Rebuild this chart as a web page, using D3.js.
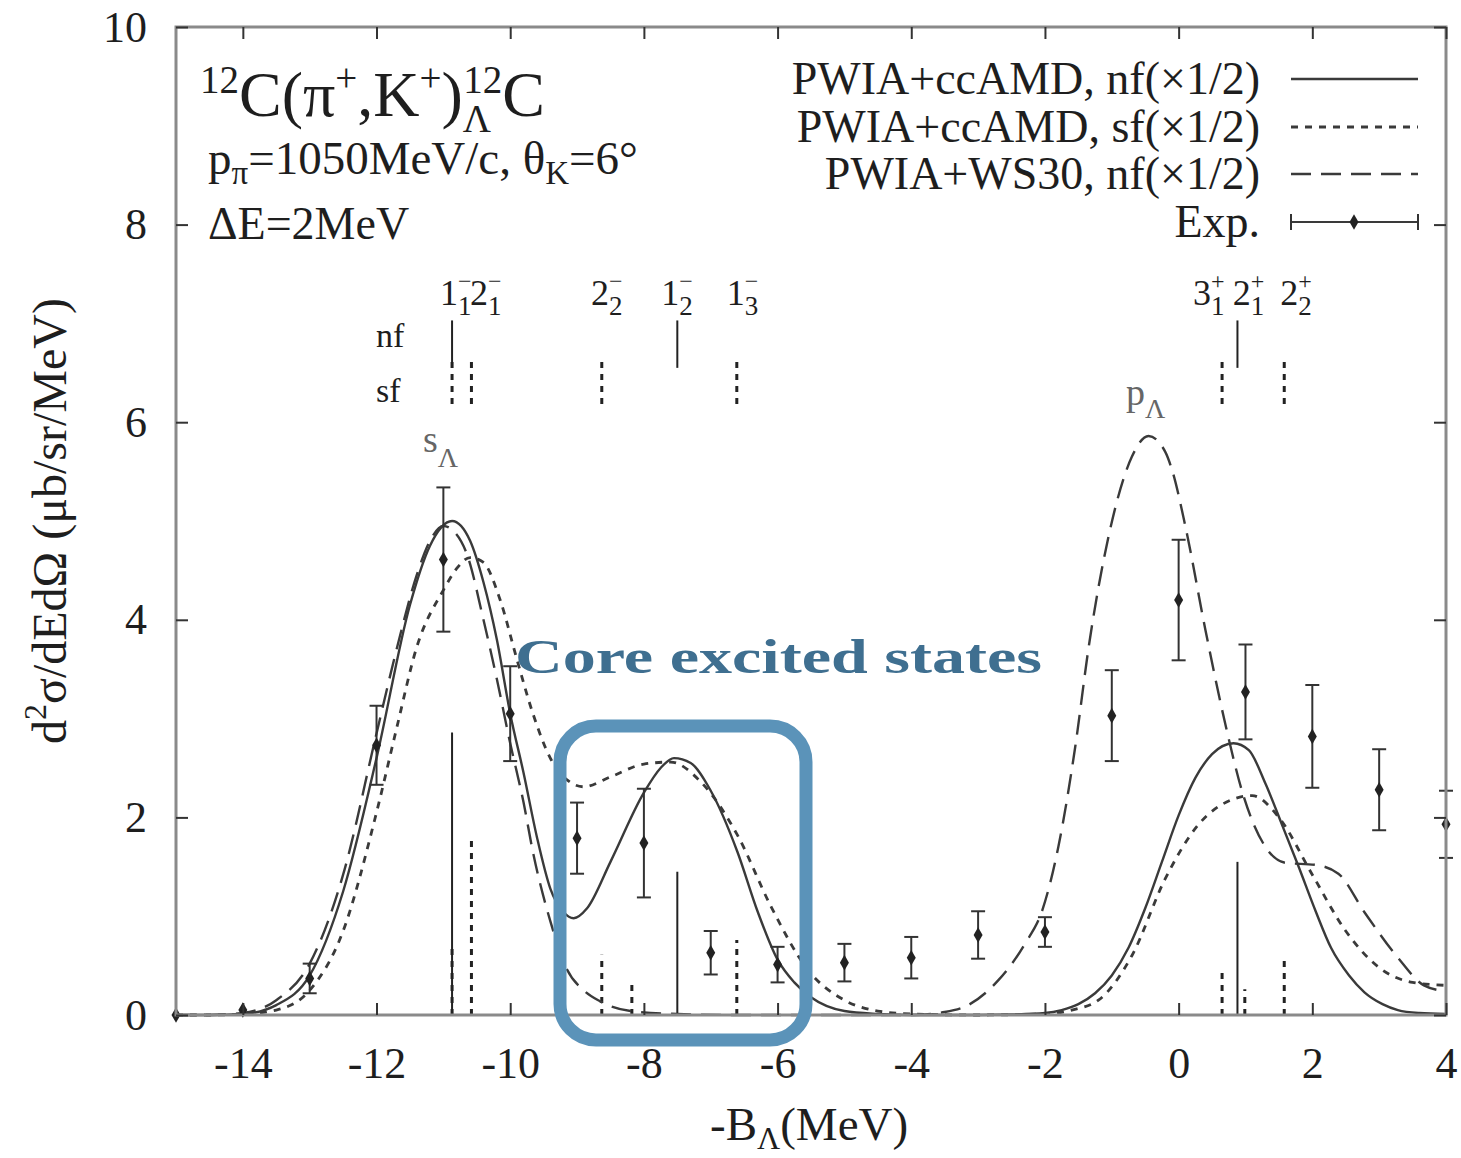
<!DOCTYPE html>
<html>
<head>
  <meta charset="UTF-8">
  <title>12C(pi+,K+) Lambda-12C spectrum</title>
  <script src="https://cdn.jsdelivr.net/npm/d3@7"></script>
  <style>
    body { margin: 0; background: #fff; }
    text { font-family: "Liberation Serif", "Times New Roman", serif; fill: #1e1e1e; }
    .tick text { font-family: "Liberation Serif", serif; font-size: 44px; fill: #1e1e1e; }
  </style>
</head>
<body>
<svg id="chart"></svg>
<script>
// ---- data ----
// experimental points
var expE   = [-15, -14, -13, -12, -11, -10, -9, -8, -7, -6, -5, -4, -3, -2, -1, 0, 1, 2, 3, 4];
var expVal = [0, 0.05, 0.37, 2.73, 4.61, 3.05, 1.79, 1.74, 0.63, 0.51, 0.53, 0.58, 0.81, 0.84, 3.03, 4.20, 3.27, 2.82, 2.28, 1.93];
var expErr = [0, 0.03, 0.15, 0.40, 0.73, 0.48, 0.36, 0.55, 0.22, 0.18, 0.19, 0.21, 0.24, 0.15, 0.46, 0.61, 0.48, 0.52, 0.41, 0.34];

// PWIA+ccAMD nf (x1/2), solid
var nfCurve = [[-15,0],[-14.5,0],[-14,0.01],[-13.5,0.1],[-13,0.4],[-12.5,1.25],[-12,2.6],[-11.5,4.15],[-11.2,4.75],
  [-10.87,5.0],[-10.6,4.8],[-10.4,4.38],[-10.2,3.8],[-10,3.05],[-9.8,2.45],[-9.6,1.8],[-9.4,1.28],[-9.2,1.04],
  [-9.05,0.98],[-8.85,1.08],[-8.5,1.55],[-8,2.25],[-7.75,2.5],[-7.55,2.6],[-7.3,2.55],[-7.0,2.27],[-6.6,1.65],
  [-6.3,1.05],[-6,0.56],[-5.75,0.33],[-5.5,0.18],[-5,0.04],[-4.5,0.01],[-4,0],[-3,0],[-2.5,0.005],[-2,0.02],
  [-1.75,0.05],[-1.5,0.11],[-1.25,0.22],[-1.0,0.4],[-0.75,0.68],[-0.5,1.08],[-0.25,1.55],[0,2.02],[0.25,2.4],
  [0.5,2.64],[0.82,2.75],[1.05,2.68],[1.3,2.34],[1.55,1.92],[1.79,1.51],[2.05,1.05],[2.28,0.68],[2.55,0.4],
  [2.78,0.23],[3.05,0.11],[3.28,0.05],[3.6,0.02],[4,0.01]];

// PWIA+ccAMD sf (x1/2), dotted
var sfCurve = [[-15,0],[-14.5,0],[-14,0.01],[-13.5,0.05],[-13,0.25],[-12.5,0.85],[-12,2.05],[-11.7,2.9],[-11.4,3.72],
  [-11.0,4.3],[-10.8,4.52],[-10.6,4.63],[-10.4,4.58],[-10.15,4.2],[-9.9,3.6],[-9.66,3.05],[-9.4,2.6],[-9.15,2.38],
  [-8.9,2.31],[-8.5,2.41],[-8,2.54],[-7.6,2.56],[-7.15,2.36],[-6.6,1.82],[-6.1,1.1],[-5.55,0.46],[-5,0.15],
  [-4.5,0.04],[-4,0.01],[-3,0],[-2,0.01],[-1.6,0.05],[-1.2,0.15],[-0.7,0.6],[-0.2,1.38],[0.3,1.93],[0.8,2.18],
  [1.1,2.22],[1.5,2.0],[2.0,1.42],[2.5,0.85],[3.0,0.48],[3.5,0.33],[4.0,0.3]];

// PWIA+WS30 nf (x1/2), dashed
var wsCurve = [[-15,0],[-14.5,0],[-14,0.02],[-13.5,0.15],[-13,0.52],[-12.5,1.42],[-12,2.85],[-11.7,3.7],[-11.4,4.45],
  [-11.2,4.8],[-11,4.95],[-10.85,4.9],[-10.64,4.65],[-10.4,4.0],[-10.2,3.4],[-10,2.75],[-9.8,2.15],[-9.66,1.65],
  [-9.4,0.95],[-9.15,0.46],[-8.9,0.25],[-8.66,0.14],[-8.2,0.04],[-7.5,0.01],[-6.5,0],[-4,0],[-3.5,0.03],
  [-3.15,0.1],[-2.7,0.35],[-2.3,0.72],[-2.04,1.06],[-1.8,1.7],[-1.55,2.7],[-1.34,3.75],[-1.04,4.87],[-0.7,5.65],
  [-0.45,5.86],[-0.2,5.7],[-0.1,5.52],[0.1,4.95],[0.4,3.9],[0.7,2.94],[0.96,2.24],[1.3,1.7],[1.6,1.54],
  [2.04,1.52],[2.39,1.43],[2.78,1.04],[3.28,0.58],[3.67,0.3],[4.0,0.24]];

// spectroscopic strengths (bars at the bottom)
var nfLevels   = [-10.87, -7.50, 0.88];
var nfStrength = [2.86, 1.45, 1.55];
var sfLevels   = [-10.87, -10.58, -8.63, -8.18, -6.61, 0.65, 0.99, 1.58];
var sfStrength = [0.73, 1.82, 0.61, 0.35, 0.76, 0.46, 0.26, 0.58];
// level marks drawn near the top
var sfMarked   = [-10.87, -10.58, -8.63, -6.61, 0.65, 1.58];

// state labels J^pi_n
var stateMain   = ["1", "2", "2", "1", "1", "3", "2", "2"];
var stateSup    = ["\u2212", "\u2212", "\u2212", "\u2212", "\u2212", "+", "+", "+"];
var stateSub    = ["1", "1", "2", "2", "3", "1", "1", "2"];
var stateLabelE = [-11.05, -10.6, -8.79, -7.74, -6.76, 0.215, 0.81, 1.52];

var xTicks = [-14, -12, -10, -8, -6, -4, -2, 0, 2, 4];
var yTicks = [0, 2, 4, 6, 8, 10];

// ---- layout ----
var width = 1461, height = 1158;
var plotLeft = 176, plotRight = 1446, plotTop = 27, plotBottom = 1015;
var curveColor = "#3a3a3a";

var x = d3.scaleLinear().domain([-15, 4]).range([plotLeft, plotRight]);
var y = d3.scaleLinear().domain([0, 10]).range([plotBottom, plotTop]);

var svg = d3.select("#chart").attr("width", width).attr("height", height);

// spectroscopic bars
var bars = svg.append("g").attr("id", "bars");
bars.selectAll(".nfbar").data(nfLevels).enter().append("line")
  .attr("x1", function(d) { return x(d); }).attr("x2", function(d) { return x(d); })
  .attr("y1", y(0)).attr("y2", function(d, i) { return y(nfStrength[i]); })
  .attr("stroke", "#222").attr("stroke-width", 2);
bars.selectAll(".sfbar").data(sfLevels).enter().append("line")
  .attr("x1", function(d) { return x(d); }).attr("x2", function(d) { return x(d); })
  .attr("y1", y(0)).attr("y2", function(d, i) { return y(sfStrength[i]); })
  .attr("stroke", "#222").attr("stroke-width", 3).attr("stroke-dasharray", "6,6");

// level marks near the top (nf solid, sf dotted)
bars.selectAll(".nfmark").data(nfLevels).enter().append("line")
  .attr("x1", function(d) { return x(d); }).attr("x2", function(d) { return x(d); })
  .attr("y1", y(7.03)).attr("y2", y(6.55))
  .attr("stroke", "#222").attr("stroke-width", 2);
bars.selectAll(".sfmark").data(sfMarked).enter().append("line")
  .attr("x1", function(d) { return x(d); }).attr("x2", function(d) { return x(d); })
  .attr("y1", y(6.61)).attr("y2", y(6.17))
  .attr("stroke", "#222").attr("stroke-width", 3).attr("stroke-dasharray", "6,6");

// curves
var line = d3.line()
  .x(function(d) { return x(d[0]); })
  .y(function(d) { return y(d[1]); })
  .curve(d3.curveMonotoneX);

var curves = svg.append("g").attr("id", "curves").attr("fill", "none").attr("stroke", curveColor);
curves.append("path").attr("d", line(wsCurve)).attr("stroke-width", 2.4).attr("stroke-dasharray", "20,10");
curves.append("path").attr("d", line(sfCurve)).attr("stroke-width", 2.8).attr("stroke-dasharray", "7,7");
curves.append("path").attr("d", line(nfCurve)).attr("stroke-width", 2.4);

// experimental points with error bars
var exp = svg.append("g").attr("id", "exp").attr("stroke", "#333").attr("stroke-width", 2);
var diamond = d3.symbol().type(d3.symbolDiamond).size(70);
expE.forEach(function(e, i) {
  var cx = x(e), lo = y(expVal[i] - expErr[i]), hi = y(expVal[i] + expErr[i]);
  if (expErr[i] > 0.05) {
    exp.append("line").attr("x1", cx).attr("x2", cx).attr("y1", lo).attr("y2", hi);
    exp.append("line").attr("x1", cx - 7).attr("x2", cx + 7).attr("y1", lo).attr("y2", lo);
    exp.append("line").attr("x1", cx - 7).attr("x2", cx + 7).attr("y1", hi).attr("y2", hi);
  }
  exp.append("path").attr("d", diamond)
    .attr("transform", "translate(" + cx + "," + y(expVal[i]) + ")")
    .attr("fill", "#222").attr("stroke", "none");
});

// frame
svg.append("rect")
  .attr("x", plotLeft).attr("y", plotTop)
  .attr("width", plotRight - plotLeft).attr("height", plotBottom - plotTop)
  .attr("fill", "none").attr("stroke", "#8a8a8a").attr("stroke-width", 3);

// axes with inward ticks, mirrored on top and right
function styleAxis(g) {
  g.select(".domain").remove();
  g.selectAll(".tick line").attr("stroke", "#333").attr("stroke-width", 2);
}
svg.append("g").attr("transform", "translate(0," + plotBottom + ")")
  .call(d3.axisBottom(x).tickValues(xTicks).tickSize(-12).tickPadding(32).tickFormat(function(d) { return String(d); }))
  .call(styleAxis);
svg.append("g").attr("transform", "translate(0," + plotTop + ")")
  .call(d3.axisTop(x).tickValues(xTicks).tickSize(-12).tickFormat(""))
  .call(styleAxis);
svg.append("g").attr("transform", "translate(" + plotLeft + ",0)")
  .call(d3.axisLeft(y).tickValues(yTicks).tickSize(-12).tickPadding(29).tickFormat(function(d) { return String(d); }))
  .call(styleAxis);
svg.append("g").attr("transform", "translate(" + plotRight + ",0)")
  .call(d3.axisRight(y).tickValues(yTicks).tickSize(-12).tickFormat(""))
  .call(styleAxis);
svg.selectAll(".tick text").attr("font-size", 44).attr("font-family", "Liberation Serif");

// axis titles
var yl = svg.append("text")
  .attr("transform", "translate(66,521) rotate(-90)")
  .attr("text-anchor", "middle").attr("font-size", 48);
yl.append("tspan").text("d");
yl.append("tspan").attr("font-size", 32).attr("dy", -20).text("2");
yl.append("tspan").attr("dy", 20).text("\u03c3/dEd\u03a9 (\u03bcb/sr/MeV)");

var xl = svg.append("text").attr("x", 710).attr("y", 1140).attr("font-size", 47);
xl.append("tspan").text("-B");
xl.append("tspan").attr("font-size", 32).attr("dy", 9).text("\u039b");
xl.append("tspan").attr("dy", -9).text("(MeV)");

// reaction title
var t1 = svg.append("text").attr("x", 200).attr("y", 116).attr("font-size", 64);
t1.append("tspan").attr("font-size", 39).attr("dy", -23).text("12");
t1.append("tspan").attr("dy", 23).text("C(\u03c0");
t1.append("tspan").attr("font-size", 39).attr("dy", -25).text("+");
t1.append("tspan").attr("dy", 25).text(",K");
t1.append("tspan").attr("font-size", 39).attr("dy", -25).text("+");
t1.append("tspan").attr("dy", 25).text(")");
t1.append("tspan").attr("font-size", 39).attr("dy", 16).text("\u039b");
t1.append("tspan").attr("font-size", 39).attr("dx", -28).attr("dy", -39).text("12");
t1.append("tspan").attr("dy", 23).text("C");

var t2 = svg.append("text").attr("x", 208).attr("y", 174).attr("font-size", 47);
t2.append("tspan").text("p");
t2.append("tspan").attr("font-size", 33).attr("dy", 10).text("\u03c0");
t2.append("tspan").attr("dy", -10).text("=1050MeV/c, \u03b8");
t2.append("tspan").attr("font-size", 33).attr("dy", 10).text("K");
t2.append("tspan").attr("dy", -10).text("=6\u00b0");

svg.append("text").attr("x", 208).attr("y", 239).attr("font-size", 46).text("\u0394E=2MeV");

// legend
var legendText = ["PWIA+ccAMD, nf(\u00d71/2)", "PWIA+ccAMD, sf(\u00d71/2)", "PWIA+WS30, nf(\u00d71/2)", "Exp."];
var legendDash = [null, "7,7", "20,10", null];
var legendRowY = [79, 127, 174, 222];
legendText.forEach(function(s, i) {
  svg.append("text").attr("x", 1260).attr("y", legendRowY[i] + 15)
    .attr("text-anchor", "end").attr("font-size", 46).text(s);
  var ln = svg.append("line").attr("x1", 1291).attr("x2", 1418)
    .attr("y1", legendRowY[i]).attr("y2", legendRowY[i])
    .attr("stroke", curveColor).attr("stroke-width", i == 3 ? 2 : 2.4);
  if (legendDash[i]) ln.attr("stroke-dasharray", legendDash[i]).attr("stroke-width", i == 1 ? 2.8 : 2.4);
});
var ly = legendRowY[3];
svg.append("line").attr("x1", 1291).attr("x2", 1291).attr("y1", ly - 8).attr("y2", ly + 8).attr("stroke", "#333").attr("stroke-width", 2);
svg.append("line").attr("x1", 1418).attr("x2", 1418).attr("y1", ly - 8).attr("y2", ly + 8).attr("stroke", "#333").attr("stroke-width", 2);
svg.append("path").attr("d", diamond).attr("transform", "translate(1354," + ly + ")").attr("fill", "#222");

// nf / sf row labels
svg.append("text").attr("x", 376).attr("y", 347).attr("font-size", 34).text("nf");
svg.append("text").attr("x", 376).attr("y", 402).attr("font-size", 34).text("sf");

// state labels
stateMain.forEach(function(m, i) {
  var sx = x(stateLabelE[i]);
  svg.append("text").attr("x", sx).attr("y", 305).attr("font-size", 36).text(m);
  svg.append("text").attr("x", sx + 18).attr("y", 289).attr("font-size", 24).text(stateSup[i]);
  svg.append("text").attr("x", sx + 18).attr("y", 315).attr("font-size", 27).text(stateSub[i]);
});

// s_Lambda, p_Lambda
var sL = svg.append("text").attr("x", 423).attr("y", 452).attr("font-size", 38).style("fill", "#666");
sL.append("tspan").text("s");
sL.append("tspan").attr("font-size", 28).attr("dy", 15).text("\u039b");
var pL = svg.append("text").attr("x", 1126).attr("y", 405).attr("font-size", 38).style("fill", "#666");
pL.append("tspan").text("p");
pL.append("tspan").attr("font-size", 28).attr("dy", 13).text("\u039b");

// core excited states highlight
svg.append("rect")
  .attr("x", 560).attr("y", 726).attr("width", 246).attr("height", 314)
  .attr("rx", 36).attr("ry", 36)
  .attr("fill", "none").attr("stroke", "#5b93b9").attr("stroke-width", 13);
svg.append("text").attr("x", 515).attr("y", 673)
  .attr("font-family", "DejaVu Serif").attr("font-weight", "bold").attr("font-size", 48)
  .attr("textLength", 527).attr("lengthAdjust", "spacingAndGlyphs")
  .style("fill", "#3f6f90").text("Core excited states");
</script>
</body>
</html>
